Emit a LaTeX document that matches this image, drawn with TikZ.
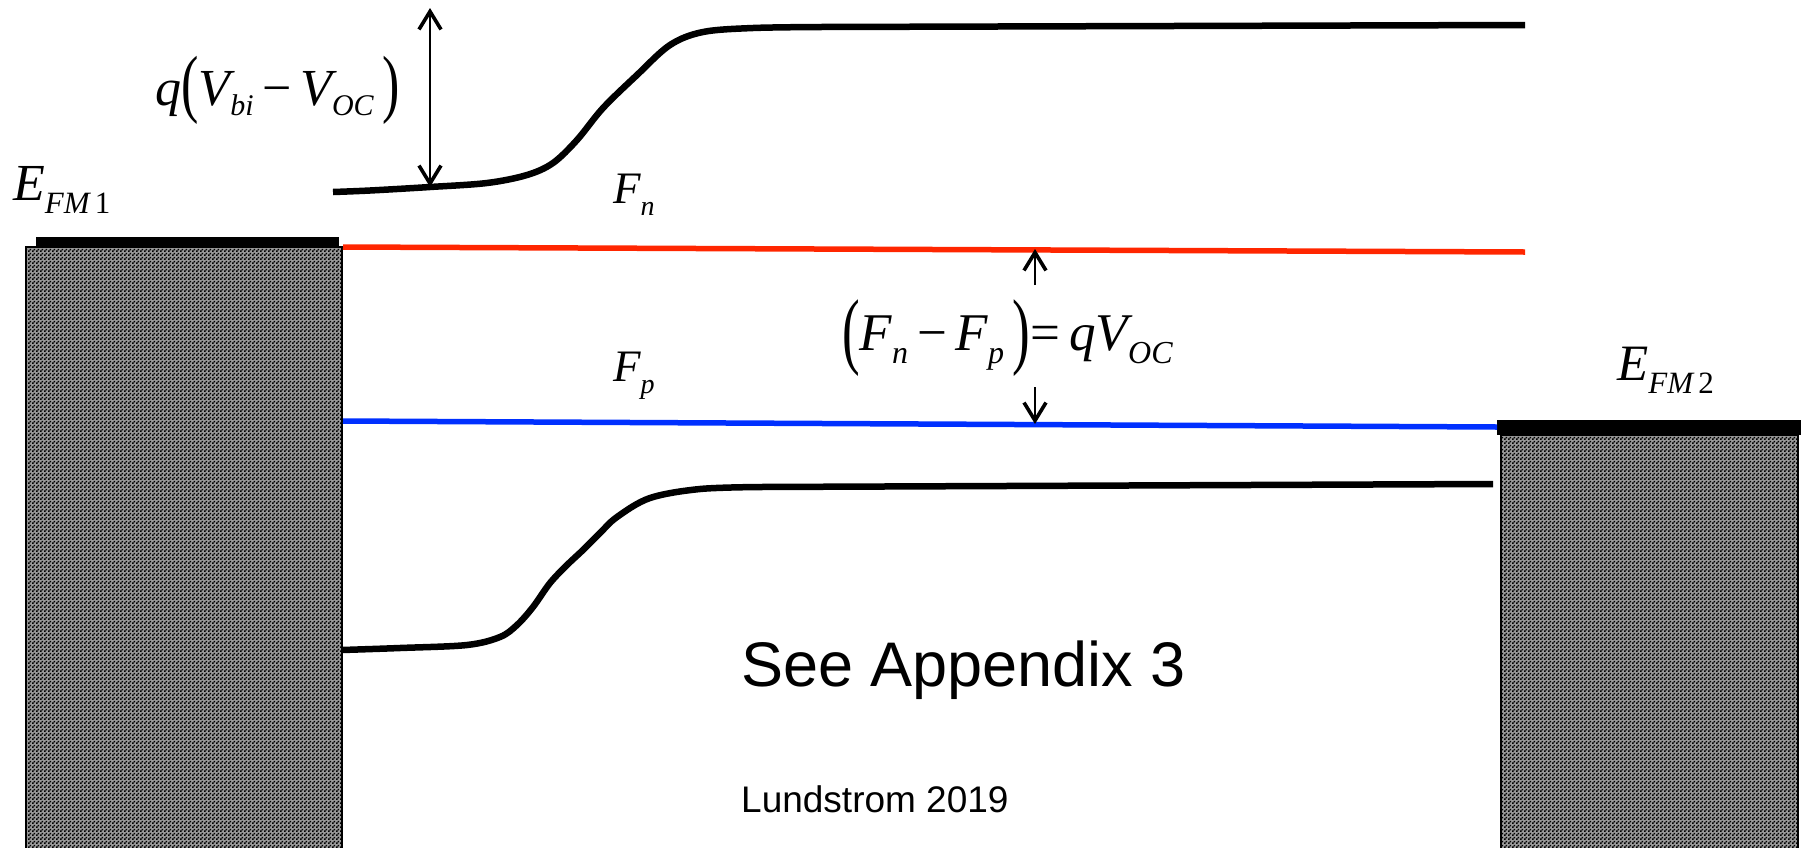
\documentclass[tikz,border=0pt]{standalone}
\usepackage{fontspec}
\usepackage{graphicx}
\setmainfont{Liberation Sans}
\newfontfamily\tms{Liberation Serif}
\usetikzlibrary{arrows.meta,patterns}

\pgfdeclarepatternformonly{checker}{\pgfpointorigin}{\pgfpoint{4pt}{4pt}}{\pgfpoint{4pt}{4pt}}{%
  \pgfpathrectangle{\pgfpointorigin}{\pgfpoint{2pt}{2pt}}%
  \pgfpathrectangle{\pgfpoint{2pt}{2pt}}{\pgfpoint{2pt}{2pt}}%
  \pgfusepath{fill}}

\newcommand{\sbx}[3]{\raisebox{-#1}{\fontsize{#2}{#2}\selectfont #3}}
\newcommand{\bigpar}[2]{\raisebox{#2}{\scalebox{1}[#1]{\upshape(}}}
\newcommand{\bigparr}[2]{\raisebox{#2}{\scalebox{1}[#1]{\upshape)}}}

\tikzset{
  metal/.style={draw=black, line width=2.5pt, fill=black!40, postaction={pattern=checker, pattern color=black}},
  contact/.style={fill=black, draw=none},
  band/.style={line width=6.5pt, line cap=butt},
  qfl/.style={line width=5.5pt},
  dimarrow/.style={line width=2.8pt, {Straight Barb[length=18pt,width=22pt,line width=3.6pt]}-{Straight Barb[length=18pt,width=22pt,line width=3.6pt]}},
  onearrow/.style={line width=2.8pt, -{Straight Barb[length=18pt,width=22pt,line width=3.6pt]}},
  mathlbl/.style={inner sep=0pt, anchor=base west, font=\tms\itshape},
  sanslbl/.style={inner sep=0pt, anchor=base west}
}

\begin{document}
\begin{tikzpicture}[x=1pt,y=-1pt]
\useasboundingbox (0,0) rectangle (1802,847);

% metal contacts
\path[metal] (26,247) rectangle (342,860);
\path[contact] (36,237) rectangle (339,248);
\path[metal] (1501,435) rectangle (1798,860);
\path[contact] (1497,420) rectangle (1801,435);

% coordinates
\coordinate (cbL) at (333,192);
\coordinate (cbR) at (1525,25);
\coordinate (vbL) at (342,650);
\coordinate (vbR) at (1493,484);
\coordinate (fnL) at (343,247);
\coordinate (fnR) at (1525,252);
\coordinate (fpL) at (343,421);
\coordinate (fpR) at (1497,427);
\coordinate (aTop) at (430,8);
\coordinate (aBot) at (430,187);
\coordinate (eUpS) at (1035,285);
\coordinate (eUpE) at (1035,249);
\coordinate (eDnS) at (1035,387);
\coordinate (eDnE) at (1035,424);

% quasi Fermi levels
\draw[qfl, draw={rgb,255:red,255;green,38;blue,0}] (fnL) -- (fnR);
\draw[qfl, draw={rgb,255:red,0;green,48;blue,255}] (fpL) -- (fpR);

% conduction band
\draw[band] (cbL) plot[smooth, tension=0.55] coordinates {(333,192) (370,190.5) (430,187) (487,183) (527,175) (553,163) (577,140) (603,108) (637,75) (670,45) (703,32) (753,28) (820,27)} -- (cbR);

% valence band
\draw[band] (vbL) plot[smooth, tension=0.55] coordinates {(342,650) (400,648) (467,645) (500,637) (517,625) (533,607) (550,583) (567,565) (583,550) (600,533) (617,517) (650,498) (700,489) (760,487)} -- (vbR);

% arrows
\draw[dimarrow] (aTop) -- (aBot);
\draw[onearrow] (eUpS) -- (eUpE);
\draw[onearrow] (eDnS) -- (eDnE);

% labels
\node[mathlbl] (lEFM1) at (13,200) {\fontsize{52}{52}\selectfont E\sbx{13pt}{31}{FM\,\upshape 1}};
\node[mathlbl] (lEFM2) at (1617,380) {\fontsize{51}{51}\selectfont E\sbx{13pt}{31}{FM\,\upshape 2}};
\node[mathlbl] (lFn) at (613,203) {\fontsize{45}{45}\selectfont F\sbx{12pt}{28}{n}};
\node[mathlbl] (lFp) at (613,381) {\fontsize{45}{45}\selectfont F\sbx{12pt}{28}{p}};
\node[mathlbl] (lq) at (155,105) {\fontsize{52}{52}\selectfont q\bigpar{1.45}{-3pt}V\sbx{10pt}{30}{bi}\,{\upshape −}\,V\sbx{10pt}{30}{OC}\,\bigparr{1.45}{-3pt}};
\node[mathlbl] (leq) at (842,350) {\fontsize{53}{53}\selectfont \bigpar{1.6}{-8pt}F\sbx{13pt}{32}{n}\,{\upshape −}\,F\sbx{13pt}{32}{p}\,\bigparr{1.6}{-8pt}{\upshape =}\,qV\sbx{13pt}{32}{OC}};

\node[sanslbl] (lapp) at (741,686) {\fontsize{63}{63}\selectfont See Appendix 3};
\node[sanslbl] (llund) at (741,812) {\fontsize{37}{37}\selectfont Lundstrom 2019};
\end{tikzpicture}
\end{document}
